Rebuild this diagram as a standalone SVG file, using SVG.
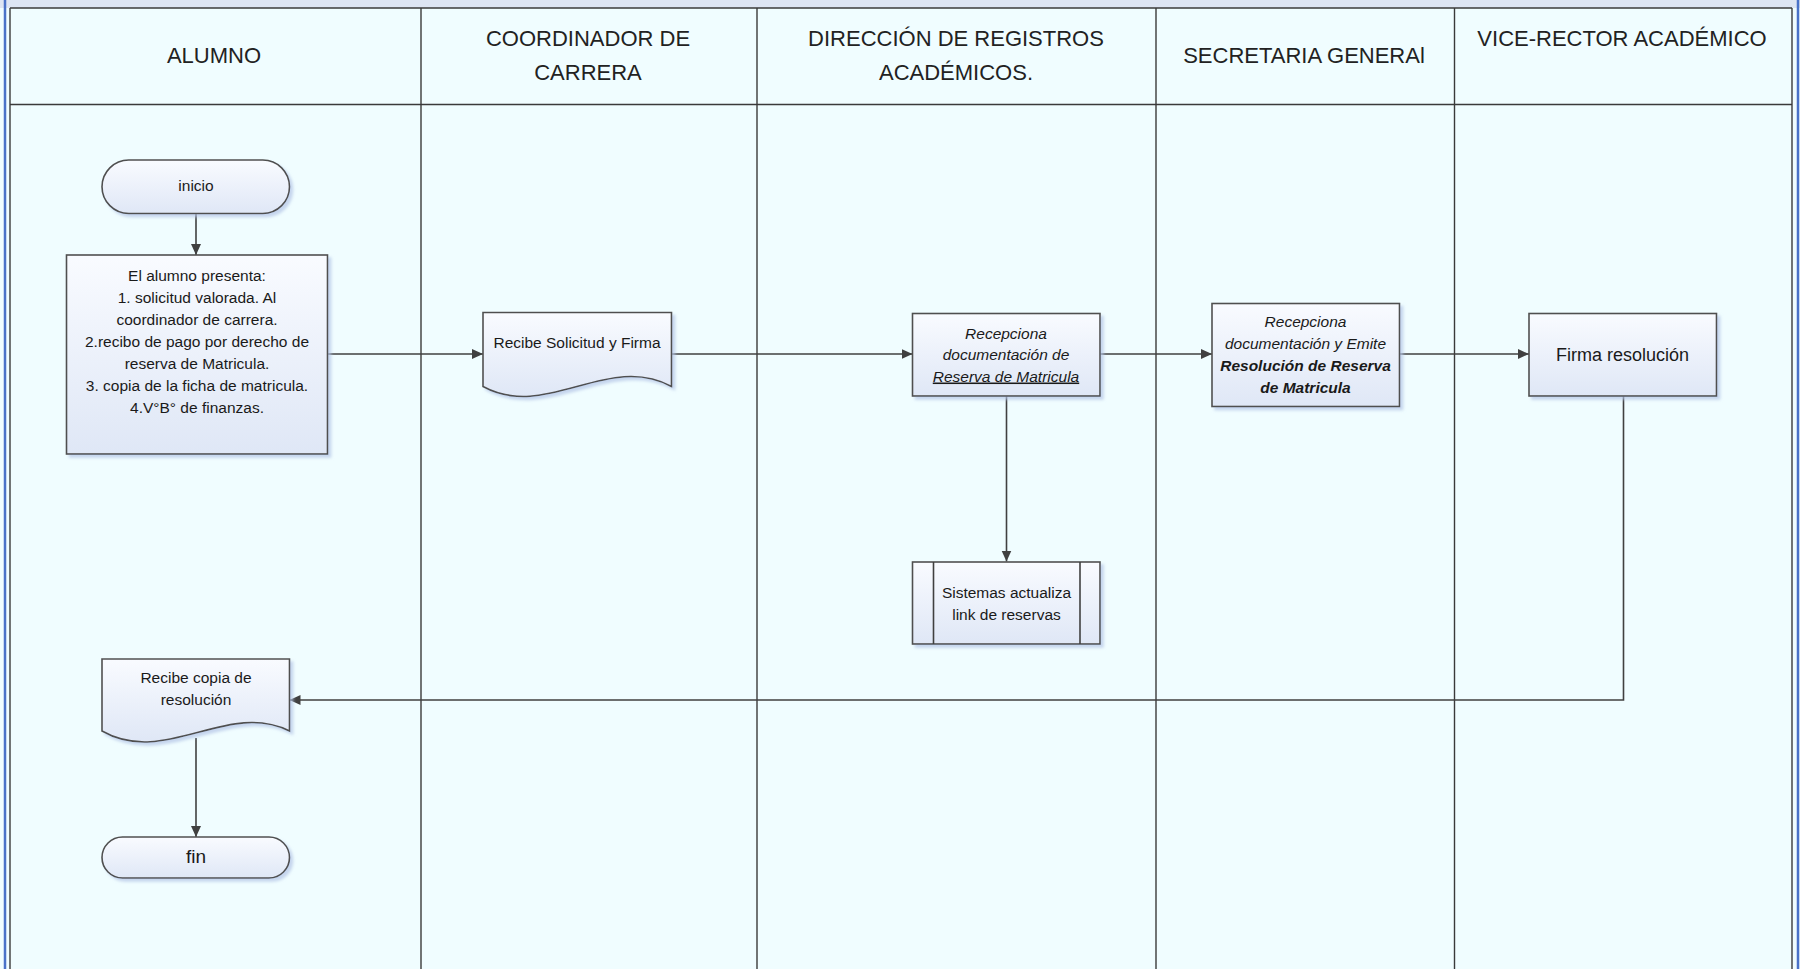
<svg xmlns="http://www.w3.org/2000/svg" width="1800" height="969" viewBox="0 0 1800 969">
<defs>
<style>
.lane{stroke:#3a3a3a;stroke-width:1.4;fill:none}
.hdr{font-family:"Liberation Sans",Arial,sans-serif;font-size:22px;fill:#222;text-anchor:middle}
.t{font-family:"Liberation Sans",Arial,sans-serif;font-size:15.5px;fill:#1a1a1a;text-anchor:middle}
.it{font-style:italic}
.bi{font-style:italic;font-weight:bold}
.shape{fill:url(#g);stroke:#505050;stroke-width:1.6;filter:url(#sh)}
.con{stroke:#404040;stroke-width:1.6;fill:none}
.ca{stroke:#404040;stroke-width:1.6;fill:none;marker-end:url(#ah)}
</style>
<linearGradient id="g" x1="0" y1="0" x2="0" y2="1">
<stop offset="0" stop-color="#f9fbff"/>
<stop offset="1" stop-color="#dfe7f6"/>
</linearGradient>
<filter id="sh" x="-10%" y="-10%" width="130%" height="130%">
<feDropShadow dx="3" dy="3" stdDeviation="1.5" flood-color="#b4c4e6" flood-opacity="0.7"/>
</filter>
<marker id="ah" markerUnits="userSpaceOnUse" markerWidth="12" markerHeight="12" viewBox="0 0 12 12" refX="11" refY="6" orient="auto">
<path d="M0,1 L11,6 L0,11 Z" fill="#404040"/>
</marker>
</defs>

<!-- background and frame -->
<rect x="0" y="0" width="1800" height="969" fill="#f0fdff"/>
<rect x="0" y="0" width="1800" height="8" fill="#dde5f3"/>
<line x1="5" y1="0" x2="5" y2="969" stroke="#4a72c8" stroke-width="2.5"/>
<line x1="1798" y1="0" x2="1798" y2="969" stroke="#4a72c8" stroke-width="2.5"/>
<g id="lanes">
<line class="lane" x1="10" y1="8" x2="1792" y2="8"/>
<line class="lane" x1="10" y1="104.5" x2="1792" y2="104.5"/>
<line class="lane" x1="10" y1="8" x2="10" y2="969"/>
<line class="lane" x1="1792" y1="8" x2="1792" y2="969"/>
<line class="lane" x1="421" y1="8" x2="421" y2="969"/>
<line class="lane" x1="757" y1="8" x2="757" y2="969"/>
<line class="lane" x1="1156" y1="8" x2="1156" y2="969"/>
<line class="lane" x1="1454.5" y1="8" x2="1454.5" y2="969"/>
</g>
<g id="headers">
<text class="hdr" x="214" y="63">ALUMNO</text>
<text class="hdr" x="588" y="46">COORDINADOR DE</text>
<text class="hdr" x="588" y="80">CARRERA</text>
<text class="hdr" x="956" y="46">DIRECCIÓN DE REGISTROS</text>
<text class="hdr" x="956" y="80">ACADÉMICOS.</text>
<text class="hdr" x="1304" y="63">SECRETARIA GENERAl</text>
<text class="hdr" x="1622" y="46">VICE-RECTOR ACADÉMICO</text>
</g>

<g id="connectors">
<line class="ca" x1="196" y1="213.5" x2="196" y2="255"/>
<line class="ca" x1="327.5" y1="354" x2="483" y2="354"/>
<line class="ca" x1="671.5" y1="354" x2="912.5" y2="354"/>
<line class="ca" x1="1100" y1="354" x2="1212" y2="354"/>
<line class="ca" x1="1399.5" y1="354" x2="1529" y2="354"/>
<line class="ca" x1="1006.5" y1="396" x2="1006.5" y2="561.5"/>
<polyline class="ca" points="1623.5,396 1623.5,700 289.5,700"/>
<line class="ca" x1="196" y1="738" x2="196" y2="837"/>
</g>

<g id="inicio">
<rect class="shape" x="102" y="160" width="187.5" height="53.5" rx="26.75" ry="26.75"/>
<text class="t" x="196" y="190.5">inicio</text>
</g>

<g id="alumno-presenta">
<rect class="shape" x="66.5" y="255" width="261" height="199"/>
<text class="t" x="197" y="281">El alumno presenta:</text>
<text class="t" x="197" y="303">1. solicitud valorada. Al</text>
<text class="t" x="197" y="325">coordinador de carrera.</text>
<text class="t" x="197" y="347">2.recibo de pago por derecho de</text>
<text class="t" x="197" y="369">reserva de Matricula.</text>
<text class="t" x="197" y="391">3. copia de la ficha de matricula.</text>
<text class="t" x="197" y="413">4.V°B° de finanzas.</text>
</g>

<g id="recibe-solicitud">
<path class="shape" d="M483,312.5 H671.5 V386.5 C608,352 546,421 483,386.5 Z"/>
<text class="t" x="577" y="347.5">Recibe Solicitud y Firma</text>
</g>

<g id="recepciona">
<rect class="shape" x="912.5" y="313.5" width="187.5" height="82.5"/>
<text class="t it" x="1006" y="338.5">Recepciona</text>
<text class="t it" x="1006" y="360">documentación de</text>
<text class="t it" x="1006" y="381.5" text-decoration="underline">Reserva de Matricula</text>
</g>

<g id="secretaria">
<rect class="shape" x="1212" y="303.5" width="187.5" height="103"/>
<text class="t it" x="1305.5" y="326.5">Recepciona</text>
<text class="t it" x="1305.5" y="348.5">documentación y Emite</text>
<text class="t bi" x="1305.5" y="370.5">Resolución de Reserva</text>
<text class="t bi" x="1305.5" y="392.5">de Matricula</text>
</g>

<g id="firma">
<rect class="shape" x="1529" y="313.5" width="187.5" height="82.5"/>
<text class="t" x="1622.5" y="360.5" style="font-size:18px">Firma resolución</text>
</g>

<g id="sistemas">
<rect class="shape" x="912.5" y="562" width="187.5" height="82"/>
<line class="con" x1="933.5" y1="562" x2="933.5" y2="644"/>
<line class="con" x1="1080" y1="562" x2="1080" y2="644"/>
<text class="t" x="1006.5" y="597.5">Sistemas actualiza</text>
<text class="t" x="1006.5" y="619.5">link de reservas</text>
</g>

<g id="recibe-copia">
<path class="shape" d="M102,659 H289.5 V731 C227,700 165,767 102,731 Z"/>
<text class="t" x="196" y="682.5">Recibe copia de</text>
<text class="t" x="196" y="704.5">resolución</text>
</g>

<g id="fin">
<rect class="shape" x="102" y="837" width="187.5" height="41" rx="20.5" ry="20.5"/>
<text class="t" x="196" y="863" style="font-size:19px">fin</text>
</g>
</svg>
